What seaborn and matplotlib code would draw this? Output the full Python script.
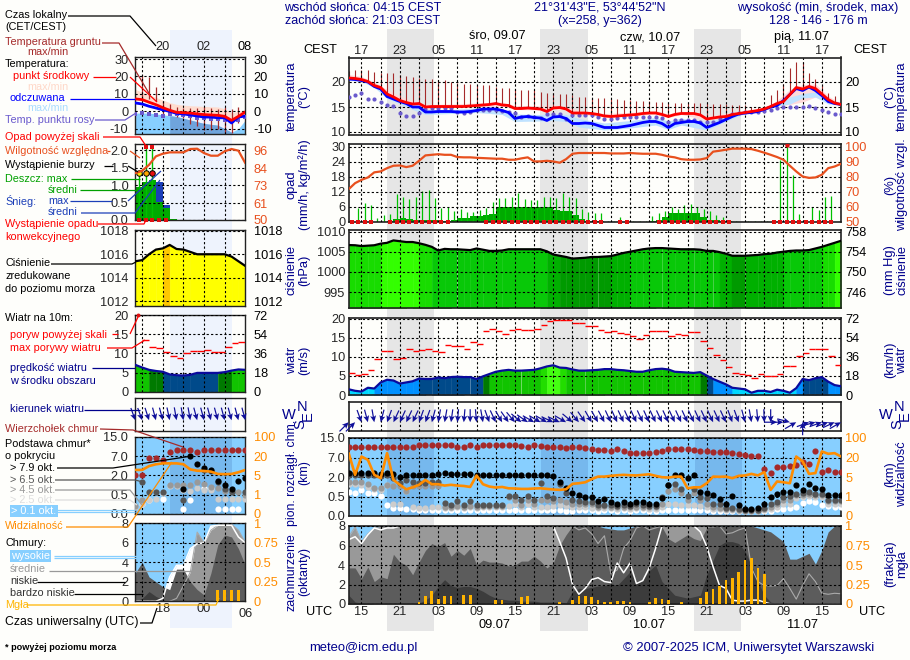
import numpy as np
import matplotlib
matplotlib.use('Agg')
import matplotlib.pyplot as plt
from matplotlib.lines import Line2D
from matplotlib.patches import Rectangle
import seaborn as sns

nan = float('nan')

# ---- main panel data, hourly from 13 UTC 08.07 (hour 13) to hour 90
hours = np.arange(13, 91)
hours_mid = hours[:-1] + 0.5

temp_mid = [20.8,20.7,20.5,20.1,19.3,18.9,17.6,17,16.3,15.9,
            15.6,15.7,15,15.1,15.1,15.1,15.1,15.1,15.1,15.2,
            15.3,15.4,15.5,15.7,15.4,15.3,14.7,14.7,14.8,14.7,
            14.6,14.1,14.8,14.9,14.6,13.8,13.8,13.8,13.7,13.5,
            13.2,13.1,13.2,13.3,13.4,13.5,13.7,13.8,13.8,13.5,
            13.1,13.5,13.7,13.7,13.7,13.4,12.6,12.8,13,13.1,
            13.5,13.7,13.9,14.1,14.3,14.6,15.1,15.7,16.1,17.5,
            18.9,18.6,19.1,18.7,17.6,16.5,15.8,15.5]
temp_feel = [20.6,20.5,20.3,20,19.1,18.6,17.1,16.6,16.1,15.7,
             15,15,14,14,14.1,14.1,14.1,14,14,14.1,
             14.3,14.6,14.6,14.6,14.3,13.9,12.7,13,13.1,12.9,
             12.8,12.3,13,13.1,12.7,11.7,11.7,11.8,11.7,11.3,
             10.9,10.9,10.9,11.1,11.3,11.6,11.9,12.1,12.1,11.7,
             10.9,11.7,11.9,12.1,12.1,11.8,10.9,11.4,11.9,12.5,
             13.1,13.6,13.8,13.9,14.1,14.5,15,15.3,16.3,17.5,
             18.7,18.3,19,18.3,17.3,16.1,15.7,15.5]
temp_dew = [17,17.3,17.7,16.6,16.6,15.9,15.3,15.1,13.8,13.1,
            13.1,13.8,14.5,14.7,14.7,14.7,14.7,14,13.8,14,
            14.4,14.4,14.4,14.4,14.1,13.9,13.8,12.9,13.1,12.9,
            12.8,13.5,13.5,13.5,12.5,13.4,13.4,13.4,13.4,13,
            12.7,12.7,12.8,13,13,13,13,13,13,12.8,
            12.1,12.3,12.3,12.3,12.3,12.1,12,12.1,12.5,13,
            13.5,13.8,13.9,14,14,14.1,14.3,14.8,14.9,15,
            15,15,15.1,14.7,14.4,13.9,13.6,13.6]
ground_max = [22.2,22.3,22.3,22.3,21.9,21.7,21.7,21.7,21.3,21.1,
              21,20.8,20.6,20.5,20.3,20.3,20,19.8,19.6,19.6,
              19.4,19.3,19.3,19,18.8,18.8,18.5,18.3,18.3,18.3,
              17.9,17.8,17.7,17.5,17.5,17.3,17,17,16.8,16.7,
              16.7,16.5,16.5,16.3,16.3,16.1,16.1,16.1,16,15.9,
              15.8,15.8,15.8,15.7,15.7,15.7,15.7,15.6,15.5,15.5,
              15.4,15.3,15.3,15,15,15.1,17.3,18.3,19.5,22.8,
              24,24,21.8,20.6,19.3,17.7,17.1,16.5]
band_hours = [13,15,17,19,21,23,25,29,33,37,39,43,45,47,49,53,57,61,63,65,69,73,75,78,80,82,84,86,88,90]
pink_hi = [21.5,21.1,20,18.5,17.2,16.2,15.5,15.6,15.8,16,15.3,15.2,15.4,15.1,14.3,13.7,13.9,14.3,13.6,14.2,13.2,13.9,14.1,14.8,16.3,18.5,19.5,19.6,17.2,15.7]
pink_lo = [20.6,20.3,19.1,17.4,16.1,15.3,14.8,14.9,15.1,15.2,14.5,14.4,14.6,14.4,13.6,13,13.2,13.6,12.9,13.5,12.4,13.3,13.8,14.4,15.2,15.5,16,17,15.9,15.4]
sky_hi = [20.6,20.3,19.1,17.4,16.3,15.3,14.5,14.5,14.8,14.6,13.6,13.5,13.7,13.5,12.7,11.8,12.3,12.9,12.2,12.8,12,13.4,13.9,14.6,15.4,17,17.7,18,16.3,15.6]
sky_lo = [20.4,20.1,18.9,16.7,15.6,14.5,13.5,13.7,13.9,13.5,12.1,12.2,12.3,12.1,11,10.4,10.8,11.4,10.5,11.4,10.4,12.7,13.7,14.4,15.2,15.6,16.8,17,15.6,15.4]

humidity = [71.7,75.7,77.9,79.5,82.9,83.5,85.7,87.3,87.5,86.4,
            87.3,90.6,94.2,94.6,95,94.6,94.6,93.1,92.9,92.9,
            92.6,92.4,92.2,92,92,91.3,91.3,92.2,92.9,90.2,
            90.2,90.6,90.2,89.3,91.7,95.3,95.8,95.8,95.8,95.8,
            95.8,95.5,95.5,95.5,95.8,95.5,95.3,95.3,95.3,94.6,
            93.5,92.9,91.7,91.3,91.3,91.5,92.4,96.7,97.3,98,
            98.7,98.7,98.7,98.4,97.3,96,94.6,93.1,91.3,87.3,
            83.5,80.1,79.2,79.5,81.3,85.7,86.8,88.6]
rain_max = [0,5.4,7.4,6.7,1.3,2.7,3,11,10,9,
            9.8,12.4,12.7,9.4,5.4,6,4.4,5,3.7,4,
            4.7,5.4,8,9.4,9.4,10,11.4,9,8.7,8.7,
            10,10,9.4,11.4,10,9.4,5,4,3.3,3.6,
            .3,.2,1.7,.2,.2,.3,.2,2.3,3.3,4.4,
            6,5,6.7,7,5.7,5,4.3,2.7,2,.7,
            .1,0,.1,.1,.1,.1,0,24.8,33,18.7,
            3,0,6,4.7,9.8,10.3,0]
rain_mean = [0,0,0,0,0,0,.3,1.2,1.3,1.2,
             .8,.7,.8,.6,.4,.4,.5,1.5,1.5,2.3,
             2.3,2.8,3,5.7,5.9,5.9,5.9,5.9,5.9,5.9,
             5.9,5.9,4.5,4.3,4.3,2.5,1,.4,.2,.2,
             0,0,0,0,0,0,0,.2,.8,2,
             3.6,3.6,3.6,3.6,3.6,1.8,.8,.8,.4,.2,
             0,0,0,0,0,0,0,0,0,0,
             0,0,0,0,0,0,0]
convective = [13.5,14.5,15.5,16.5,19.5,20.5,21.5,22.5,23.5,24.5,25.5,26.5,27.5,28.5,
              34.5,35.5,36.5,37.5,38.5,39.5,40.5,41.5,42.5,43.5,44.5,45.5,46.5,47.5,48.5,49.5,50.5,51.5,52.5,
              55.5,56.5,61.5,62.5,63.5,64.5,65.5,66.5,67.5,68.5,69.5,70.5,71.5,72.5,
              79.5,80.5,81.5,82.5,83.5,84.5,85.5,86.5,87.5,88.5]
over_rain_hour = [81.5]
over_rain_value = [30.6]

pressure = [1006.65,1006.6,1006.4,1006.5,1006.6,1007,1007.2,1007.8,1007.6,1007.4,
            1007.4,1007.1,1006.7,1006.2,1005.3,1005.7,1005.6,1005.6,1005.5,1005.4,
            1005.8,1005.5,1005.2,1005.2,1005.3,1005.6,1005.6,1005.6,1005.6,1005.6,
            1005.6,1005.1,1004.3,1004,1003.7,1003.3,1003.4,1003.5,1003.7,1003.7,
            1003.8,1003.9,1004.3,1004.7,1005,1005.3,1005.6,1005.8,1005.9,1005.9,
            1005.8,1005.7,1005.6,1005.6,1005.6,1005.5,1005.2,1005.2,1004.9,1004.5,
            1004,1004,1004,1004.1,1004.2,1004.4,1004.5,1004.8,1005,1005.2,
            1005.3,1005.3,1005.4,1005.8,1006.2,1006.7,1007.2,1007.7]
wind = [1.5,1.1,.9,1.9,1.7,3.3,4,3.8,3,3.3,
        3.6,4.3,4.2,4.2,4.6,4.4,4.7,4.8,4.7,4.7,
        4.2,4.9,5.5,6.1,6.4,6.6,6.4,6.4,6.5,6.6,
        7,7.5,7.8,7.2,7.1,6.7,6.4,6.4,6.5,6.6,
        6.8,6.8,6.6,6.5,6.3,6.1,6.1,6.5,6.8,6.9,
        6.7,6.1,6,5.9,5.8,6,5.1,4.2,3.5,2.8,
        1.9,1.7,1.5,.6,1.1,1.1,.8,1.4,1.1,.6,
        1.8,4.2,3.9,4.4,4.7,3.5,2.6,2.3]
gust = [5.7,5.2,5.4,6.5,9.4,11.5,11.5,9.4,9.6,12,
        11.5,11.8,12,11.5,11.2,13,12.8,12.8,12,13.9,
        13.3,16.8,17.3,16.8,16,17,17.3,17,17,17.3,
        18.4,19.5,19.6,19.6,19.6,18.9,18.9,18.1,18.1,17,
        16.6,16.8,16.2,16,15.4,14.6,15.7,16.8,16.8,16.8,
        15.4,16,15.7,16.5,16.5,14.1,12.3,10.4,9.1,7.3,
        5.7,5.4,5.2,4.4,5.4,5.1,5.1,5.4,7.5,7.7,
        10.2,11,12.1,12.1,12.1,10.2,7.8]
wind_dir = [225,225,340,345,350,15,20,25,25,25,
            25,20,20,15,10,10,8,5,5,0,
            355,350,340,335,330,325,320,310,305,300,
            300,300,295,295,300,310,320,325,330,330,
            332,335,335,335,335,335,335,335,335,335,
            335,335,335,335,335,335,335,335,335,335,
            340,340,345,350,355,358,0,270,270,285,
            240,180,250,255,250,250,245,240]

cloud_top = [11.3,11.3,11.3,11.3,11.3,11.3,11.3,11.3,11.3,11.3,
             11.3,12.1,12.2,12.2,12.2,12.2,12.2,11.3,11.3,12.1,
             11.3,12.1,12.1,12.1,12.1,12.1,12.1,11.7,11.3,12.1,
             11.7,11.3,11.3,11.3,10.9,11.3,11.3,10.9,10.3,10.2,
             9.9,9.7,10.3,9.5,8.7,8.9,8.9,8.9,9.1,9.7,
             10.4,10.4,10.4,10.4,9.9,9.7,9.7,9.3,9.3,9.1,
             8.8,8.5,8.1,7.8,7.6,4.1,3,4.5,4.5,4.7,
             4.95,5.8,5.3,9.7,3.4,3.85,3.4,3.25]
base_79 = [2.9,2.9,2.9,2.9,2.9,2.75,2.9,2.8,1.97,2.55,
           2.5,2.5,2.55,2.4,2.8,2.9,2.8,2.75,2.75,2.7,
           2.6,2.6,2.6,2.55,2.55,2.55,2.5,2.5,2.5,2.5,
           2.55,2.4,2.35,1.65,1.19,.75,.6,.5,.49,.38,
           .44,.36,.32,.35,.32,.37,.36,.32,.32,.45,
           1.4,2.55,2.55,1.96,2.55,.85,.75,.6,.44,.3,
           .55,.27,.17,.17,.2,.3,.5,.72,.88,.88,
           1.4,.98,1.47,1.19,1.08,.62,.62,.62]
base_65 = [2.55,2.4,2.55,2.55,2.55,2.15,2.55,1.9,1.52,1.78,
           1.65,1.52,1.52,1.6,1.6,.33,.28,.39,.28,.39,
           .28,.28,.28,.28,.28,.52,.52,.42,.52,.42,
           1.52,.52,.45,1.45,.75,.42,.39,.37,.35,.28,
           .28,.28,.26,.28,.26,.3,.28,.26,.26,.5,
           1.4,1.45,1.05,.55,1.1,.5,.45,.3,.3,.2,
           .2,.18,.15,.15,.15,.2,.3,.35,.5,.52,
           .7,.75,.88,.7,.7,.42,.42,.42]
base_45 = [1.6,1.6,1.6,1.45,1.19,1.13,1.4,1.31,1.3,.93,
           1.3,1.3,1.27,1.3,1.3,.24,.22,.26,.24,.26,
           .24,.26,.26,.26,.26,.5,.4,.28,.42,.3,
           .42,.4,.38,.4,.36,.3,.3,.3,.3,.24,
           .26,.24,.22,.24,.22,.24,.24,.22,.22,.32,
           .9,1.1,.8,.4,.8,.4,.3,.24,.2,.17,
           .17,.15,.14,.14,.14,.17,.24,.3,.4,.42,
           .6,.62,.7,.6,.6,.38,.38,.38]
base_25 = [1.5,1.45,1.4,1.2,1.1,1,1.4,.3,.3,.93,
           .22,.2,.2,.22,.22,.2,.2,.22,.2,.22,
           .2,.22,.22,.22,.22,.26,.3,.22,.3,.24,
           .24,.24,.26,.28,.26,.22,.22,.22,.2,.2,
           .2,.2,.18,.2,.18,.2,.2,.18,.18,.22,
           .3,.3,.28,.28,.28,.26,.22,.18,.17,.15,
           .15,.14,.13,.13,.13,.15,.18,.22,.3,.32,
           .45,.5,.52,.5,.48,.32,.3,.3]
base_01 = [.88,.75,1.01,.75,.75,.52,.28,.21,.2,.18,
           .18,.15,.15,.15,.15,.15,.15,.15,.15,.15,
           .16,.15,.15,.15,.16,.15,.15,.15,.15,.15,
           .15,.15,.16,.15,.14,.14,.15,.15,.15,.14,
           .15,.15,.14,.15,.14,.15,.15,.14,.14,.15,
           .16,.16,.16,.16,.16,.15,.15,.14,.14,.13,
           .13,.13,.13,.13,.13,.13,.14,.17,.18,.21,
           .24,.33,.39,.37,.28,.26,.24,.24]
visibility = [37.9,6.65,24,18.2,6.65,4.76,37.9,4.4,3.4,2.48,
              2.88,3.4,4.4,3.52,3.52,3.24,3.4,3.24,3.16,2.96,
              6.2,3.52,3.04,2.84,2.96,2.68,2.64,2.56,2.56,2.64,
              2.68,2.56,2.44,2.36,2.48,3.6,3.72,3.92,4.56,5.3,
              5.3,5.9,6.35,6.65,6.35,6.2,6.65,7.1,5.9,4.96,
              4.88,5.3,5.3,2.68,2.88,2.88,3.72,5.3,5.15,5.3,
              4.76,5.9,6.2,7.4,6.2,8.75,2.36,4.08,3.92,3.72,
              24,17,7.4,8,44.8,35.2,37.9,24]

cloud_high = [6.6,6.9,6.2,7.1,7.8,7.6,7.8,7.8,8,8,
              8,8,8,8,8,8,8,8,8,8,
              8,8,8,8,8,8,8,8,8,8,
              8,8,8,6.4,4.7,2,1,1.6,2.5,2.7,
              2.3,2.2,4.2,3.2,4.2,2.1,2.4,3.7,5.7,8,
              8,8,8,8,8,7.4,5.9,3.8,1.9,1.6,
              .4,.3,.3,.4,.4,.2,0,0,0,0,
              0,0,0,0,0,0,0,0]
cloud_med = [6.9,7.9,6.4,7.2,7.8,8,8,8,8,8,
             8,8,8,8,8,8,8,8,8,8,
             8,8,8,8,8,8,8,8,8,8,
             8,8,8,8,8,8,7.6,7.8,7.2,6.2,
             7,3.1,3.5,5.7,6.5,7.8,8,7.6,7.8,8,
             8,8,8,8,8,8,8,7.9,8,7.2,
             7.3,7.6,7.8,3.7,2.3,1.9,1.85,1.9,2.6,1.6,
             .5,1.9,3.1,2.3,1.1,1,1.1,1.05]
cloud_low = [3.7,3.7,2.6,3.8,2.3,2.8,2.6,5.1,4.3,4,
             3,4.3,5.5,6.2,5.9,6.3,4.9,5.5,5,5.7,
             4,4.5,4.3,4.3,4.2,3.9,4,4.4,4.4,4.9,
             4.4,3.7,4.2,6,7.1,8,8,8,8,8,
             7.8,7.7,7.6,7.6,7.8,8,8,8,8,7.9,
             6.7,6.3,6.7,7.1,6.7,6.5,7.8,8,8,8,
             8,8,8,8,7.8,7.6,7.4,6.9,6.4,4.6,
             4.6,4.9,5.2,4.1,5.5,7.4,8,8]
cloud_vlow = [.9,.2,.1,.1,0,0,0,0,0,0,
              0,.1,.4,.9,1.8,2.5,1.9,1.7,1.8,1.8,
              1.6,1.3,.9,.6,.5,.4,.4,.3,.3,.3,
              .2,.2,.2,.2,.1,1.3,1.6,1.6,1.7,1.85,
              1.9,2.1,1.9,2.6,3.3,2.3,2.5,3.4,4,2.3,
              1.6,.9,.75,.6,.75,.9,3,4.5,6,6.4,
              6.4,6.2,5.4,4,2.3,.9,.2,0,0,0,
              0,0,0,0,0,0,0,0]
fog = [0,0,0,0,0,0,0,0,0,0,
       0,.03,.1,.17,.07,.1,.1,0,.12,.11,
       0,0,0,.05,.05,0,0,.085,.1,0,
       0,0,0,.03,0,.05,.1,.1,.09,.05,
       .03,.03,.04,.04,.03,0,0,.03,.08,.07,
       .05,0,.03,0,0,.08,.16,.19,.235,.31,
       .33,.41,.57,.585,.46,.39,0,0,0,0,
       0,0,0,0,0,0,0,0]

main_ticks = list(range(15, 91, 3))
local_labels = ['17','','23','','05','','11','','17','','23','','05','','11','','17','','23','','05','','11','','17','']
utc_labels = ['15','','21','','03','','09','','15','','21','','03','','09','','15','','21','','03','','09','','15','']

# ---- left panel data, hours 14 to 30
hours_l = np.arange(14, 31)
hours_l_mid = hours_l[:-1] + 0.5

temp_mid_l = [7.1,6.7,5.2,3.8,2.1,.6,-.6,-.8,-1,-1.5,-1.9,-2.1,-2.3,-2.9,-5.2,-2.9,-.4]
temp_feel_l = [4.8,4.2,2.9,1.9,.8,0,-1.2,-1.5,-2.1,-2.7,-3.3,-3.3,-3.7,-3.7,-6.7,-3.3,-2.7]
temp_dew_l = [-1.3,-1.1,-1.3,-2,-2.5,-1.3,-1.3,-2.3,-2.9,-3.7,-4,-4.4,-4.4,-4.8,-5.6,-4.8,-3.3]
temp_pink_l = [12.6,11,9.5,8,6.5,5,4,3.5,3.2,3,2.8,2.6,2.5,1.5,-1,0,1]
feel_min_l = [-1,-1,-1,-1.5,-2,-2.5,-3,-4,-5,-6,-7,-7.5,-8,-10,-12,-10,-5]
ground_top_l = [20.9,19.6,14,6,4.4,2.5,2,2,2,2.5,2,1.5,2.5,1.5,2.5]
ground_bot_l = [6,7,6,-3,-2,-3,-4,-7.5,-8.5,-10.5,-11,-10,-13,-12.5,-7]

humidity_l = [80.8,82.4,86.3,91.9,93.6,94.5,94.5,94.5,96.7,96.9,94,92.3,92.3,95.2,96.7,95.6,87.4]
rain_mean_l = [.94,1.1,1.15,.52,.33,.04,0,0,0,0,0,0,0,0,0,0]
snow_max_l = [0,0,0,1.1,.43,0,0,0,0,0,0,0,0,0,0,0]
rain_max_l = [1.35,2.1,2.1,0,0,0,0,0,0,0,0,0,0,0,0,0]
convective_l = [14.5,15.5,16.5,17.5,18.5]
thunder_hours = [14.5,15.5,16.5]
thunder_colors = ['#ffe600','#ffa500','#e81010']
thunder_level = [1.34,1.34,1.34]
over_rain_hours_l = [15.5,16.5]
over_rain_values_l = [2.1,2.1]

pressure_l = [1015.4,1015.5,1016,1016.4,1016.5,1016.8,1016.45,1016.4,1016.2,1016,1016,1016,1016,1016,1015.8,1015.4,1015]
wind_l = [7,6.3,5.7,5.4,5.2,4.5,4.3,4.2,4.4,4.9,4.9,4.9,4.9,5.1,5.5,5.8,5.7]
gust_l = [nan,13.5,11.6,11.3,10.4,9.4,8.7,10.2,10.5,10.7,10.8,10.4,10.4,11.6,12.6,12.9]
over_gust_hour = [14.4]
over_gust_value = [19.9]
wind_dir_l = [340,340,342,345,345,348,350,350,350,345,345,345,345,345,345,345,345]

cloud_top_l = [2,2,6.4,6.4,5.95,8.8,9.7,9.7,9.7,8.8,9.7,9.7,9.7,9.7,9.7,9.7,9.7]
base_79_l = [nan,nan,nan,nan,nan,nan,nan,.92,7,4.95,3.8,3.4,1.6,1.25,.92,1.55,1.8]
base_65_l = [nan,1.52,.68,.68,.68,nan,nan,.35,nan,nan,3.4,3.2,1.5,.92,.68,nan,.68]
base_45_l = [.2,.35,nan,nan,nan,1.24,1.24,1.24,1.24,1.5,1.3,1.1,1,.8,.75,.7,.5]
base_25_l = [.18,.25,.35,.4,.6,1.2,1.2,.9,.8,1,.9,.85,.38,.38,.38,.38,.38]
base_01_l = [nan,.25,.35,nan,.38,nan,nan,.13,.35,nan,1,1,.13,.13,.13,.13,nan]
visibility_l = [9.2,9.2,12.2,13.6,14.3,14.3,14.3,13.6,9.6,8.6,8.4,7.9,6.1,5.9,6.1,7.4,9.2]

cloud_high_l = [0,0,0,0,.3,2.5,3.7,3.7,5.4,5.9,6,7.7,7.8,7.8,7.8,6.6,6]
cloud_med_l = [0,0,0,0,0,0,.3,1.6,3,7.1,6,7.3,7.8,7.9,7.9,7.3,6]
cloud_low_l = [2.9,4,2.5,2,1.5,1.2,3.3,3.3,2,1.2,.65,2.9,5.8,6.8,6.6,5.4,3.7]
cloud_vlow_l = [0,.3,1,.5,.2,0,0,0,0,0,0,0,0,0,0,0,0]
fog_l = [0,0,0,0,0,0,0,0,0,0,0,0,.145,.145,.145,.145,0]

left_ticks = [15,18,21,24,27]
left_local = ['', '20', '', '02', '']
left_utc = ['', '18', '', '00', '']

# ---- colours
NAVY = '#00008c'
RH_COL = '#e8501e'
ORANGE = '#ff8c00'
FOG_COL = '#ffb400'
SKY = '#87cfff'
BROWN = '#a52a2a'
BASE_COLORS = ['#ffffff', '#cccccc', '#999999', '#555555', '#000000']
PRESS_BINS = [1004, 1005, 1006, 1007]
PRESS_COLS = ['#009a00', '#00b000', '#08c808', '#18dc00', '#33ff00']
WIND_BINS = [2.2, 3.95, 4.9, 5.6, 7, 7.4]
WIND_COLS = ['#00d8ff', '#0090ff', '#004a8a', '#007a00', '#11c400', '#22dd00', '#44ff11']

sns.set_theme(style='white')
plt.rcParams['font.family'] = ['Liberation Sans', 'DejaVu Sans']
plt.rcParams['font.size'] = 8.6
plt.rcParams['axes.unicode_minus'] = False

W, H = 910, 660
fig = plt.figure(figsize=(W / 100, H / 100), dpi=100, facecolor='#fefefb')


def px_axes(left, top, right, bottom):
    ax = fig.add_axes([left / W, 1 - bottom / H, (right - left) / W, (bottom - top) / H])
    ax.set_facecolor('none')
    return ax


def px_text(x, y, s, color='black', ha='left', **kw):
    kw.setdefault('fontsize', 7.8)
    fig.text(x / W, 1 - y / H, s, color=color, ha=ha, va='center', **kw)


def px_line(points, color='black', lw=0.9):
    xs = [p[0] / W for p in points]
    ys = [1 - p[1] / H for p in points]
    fig.add_artist(Line2D(xs, ys, color=color, lw=lw, zorder=10, solid_capstyle='butt'))


def km_fwd(v):
    return np.interp(v, [0, .5, 2, 7, 15], [0, 1, 2, 3, 4])


def km_inv(p):
    return np.interp(p, [0, 1, 2, 3, 4], [0, .5, 2, 7, 15])


def vis_fwd(v):
    return np.interp(v, [0, 1, 5, 20, 100], [0, 1, 2, 3, 4])


def vis_inv(p):
    return np.interp(p, [0, 1, 2, 3, 4], [0, 1, 5, 20, 100])


def finish(ax, xlim, ylim, yticks, ylabels, xticks, lw=1.2, pad=2.5):
    ax.set_xlim(*xlim)
    ax.set_ylim(*ylim)
    ax.set_xticks(xticks)
    ax.set_xticklabels([])
    ax.set_yticks(yticks)
    ax.set_yticklabels(ylabels, fontsize=9.2)
    ax.tick_params(length=0, pad=pad, which='both')
    ax.set_xlabel('')
    ax.set_ylabel('')
    ax.grid(True, color='black', linestyle=(0, (2, 2)), linewidth=0.8)
    ax.set_axisbelow(False)
    for s in ax.spines.values():
        s.set_visible(True)
        s.set_color('#222222')
        s.set_linewidth(lw)


def right_axis(ax, ylim, ticks, labels, color='black', pad=3):
    tw = ax.twinx()
    tw.set_facecolor('none')
    tw.set_ylim(*ylim)
    tw.set_yticks(ticks)
    tw.set_yticklabels(labels, color=color, fontsize=9.2)
    tw.tick_params(length=0, pad=pad, which='both')
    tw.grid(False)
    for s in tw.spines.values():
        s.set_visible(False)
    return tw


def fill_levels(ax, x, values, base, bins, cols):
    # one coloured slice per hour, colour follows the value
    values = np.asarray(values, dtype=float)
    for i in range(len(x) - 1):
        c = cols[np.searchsorted(bins, (values[i] + values[i + 1]) / 2)]
        ax.fill_between(x[i:i + 2], base, values[i:i + 2], color=c, linewidth=0.3, zorder=1)


def dir_arrows(ax, x, dirs, y):
    rad = np.radians(np.asarray(dirs, dtype=float) + 180)
    ax.quiver(x, np.full(len(x), y), 13 * np.sin(rad), 13 * np.cos(rad), angles='uv', units='dots',
              scale_units='dots', scale=1, pivot='tip', width=1.2, headwidth=5, headlength=5.5,
              headaxislength=4.5, color='#10109a', zorder=3, clip_on=False)


def draw_bases(ax, x, tops, b79, b65, b45, b25, b01, vis, xlim, xticks, size, lw=1.2, pad=2.5, rpad=3):
    for series, col in zip([b01, b25, b45, b65, b79], BASE_COLORS):
        sns.scatterplot(x=x, y=series, color=col, s=size, linewidth=0, ax=ax, zorder=3, legend=False)
    sns.scatterplot(x=x, y=tops, color=BROWN, s=size, linewidth=0, ax=ax, zorder=3, legend=False)
    ax.set_yscale('function', functions=(km_fwd, km_inv))
    finish(ax, xlim, (0, 15), [0, .5, 2, 7, 15], ['0.0', '0.5', '2.0', '7.0', '15.0'], xticks, lw=lw, pad=pad)
    tw = ax.twinx()
    tw.set_facecolor('none')
    sns.lineplot(x=x, y=vis, color=ORANGE, lw=1.9, ax=tw, legend=False)
    tw.set_yscale('function', functions=(vis_fwd, vis_inv))
    tw.set_ylim(0, 100)
    tw.set_xlim(*xlim)
    tw.set_yticks([0, 1, 5, 20, 100])
    tw.set_yticklabels(['0', '1', '5', '20', '100'], color=ORANGE, fontsize=9.2)
    tw.set_ylabel('')
    tw.tick_params(length=0, pad=rpad, which='both')
    tw.grid(False)
    for s in tw.spines.values():
        s.set_visible(False)


def draw_clouds(ax, x, high, med, low, vlow):
    ax.set_facecolor(SKY)
    ax.fill_between(x, 0, high, color='white', linewidth=0, zorder=1)
    ax.fill_between(x, 0, med, color='#999999', linewidth=0, zorder=1.1)
    ax.fill_between(x, 0, low, color='#5c5c5c', linewidth=0, zorder=1.2)
    ax.fill_between(x, 0, vlow, color='#3c3c3c', linewidth=0, zorder=1.3)
    sns.lineplot(x=x, y=med, color='#aaaaaa', lw=0.8, ax=ax, zorder=2, legend=False)
    sns.lineplot(x=x, y=high, color='white', lw=1.1, ax=ax, zorder=2.1, legend=False)


# night and day strips behind the panels
for x0, x1 in [(387, 434), (540, 588), (694, 741)]:
    fig.add_artist(Rectangle((x0 / W, 1 - 631 / H), (x1 - x0) / W, (631 - 29) / H, transform=fig.transFigure,
                             facecolor='#e6e6e6', edgecolor='none', zorder=-1))
fig.add_artist(Rectangle((170 / W, 1 - 628 / H), 62 / W, (628 - 30) / H, transform=fig.transFigure,
                         facecolor='#eef3fd', edgecolor='none', zorder=-1))

xlim_m = (13, 90)
xlim_l = (14, 30)

# ---- main temperature
ax = px_axes(348.7, 57.5, 841, 135)
ax.fill_between(band_hours, pink_lo, pink_hi, color='#ffd9d9', linewidth=0, zorder=1)
ax.fill_between(band_hours, sky_lo, sky_hi, color='#bfe2ff', linewidth=0, zorder=1.1)
ax.vlines(hours, temp_mid, ground_max, color=BROWN, lw=0.8, zorder=2)
sns.scatterplot(x=hours, y=temp_dew, color='#6a5acd', s=9, marker='o', linewidth=0, ax=ax, zorder=3, legend=False)
sns.lineplot(x=hours, y=temp_feel, color='#0000ff', lw=2, ax=ax, zorder=3.1, legend=False)
sns.lineplot(x=hours, y=temp_mid, color='#ff0000', lw=2, ax=ax, zorder=3.2, legend=False)
finish(ax, xlim_m, (9.4, 24.9), [10, 15, 20], ['10', '15', '20'], main_ticks)
ax.tick_params(axis='x', labeltop=True, labelbottom=False, pad=0.5)
ax.set_xticks(main_ticks)
ax.set_xticklabels(local_labels, fontsize=9.2)
right_axis(ax, (9.4, 24.9), [10, 15, 20], ['10', '15', '20'])

# ---- main rain and humidity
ax = px_axes(348.7, 144, 841, 221.7)
ax.bar(hours_mid, rain_mean, width=1, color='#00aa00', linewidth=0, zorder=1)
ax.vlines(hours_mid, 0, rain_max, color='#00c000', lw=0.9, zorder=2)
sns.scatterplot(x=convective, y=np.zeros(len(convective)), color='#e01010', s=5, marker='s', linewidth=0, ax=ax,
                zorder=4, clip_on=False, legend=False)
sns.scatterplot(x=over_rain_hour, y=over_rain_value, color='#e01010', s=10, linewidth=0, ax=ax, zorder=4, legend=False)
finish(ax, xlim_m, (0, 31.1), [0, 6, 12, 18, 24, 30], ['0', '6', '12', '18', '24', '30'], main_ticks)
rh_ax = right_axis(ax, (50, 101.8), [50, 60, 70, 80, 90, 100], ['50', '60', '70', '80', '90', '100'], RH_COL)
sns.lineplot(x=hours, y=humidity, color=RH_COL, lw=1.6, ax=rh_ax, legend=False)
rh_ax.set_ylabel('')
rh_ax.set_xlim(*xlim_m)

# ---- main pressure
ax = px_axes(348.7, 230.3, 841, 308.3)
fill_levels(ax, hours, pressure, 991, PRESS_BINS, PRESS_COLS)
sns.lineplot(x=hours, y=pressure, color='black', lw=1.6, ax=ax, zorder=3, legend=False)
finish(ax, xlim_m, (991, 1010.3), [995, 1000, 1005, 1010], ['995', '1000', '1005', '1010'], main_ticks)
right_axis(ax, (991, 1010.3), [995, 1000, 1005, 1010], ['746', '750', '754', '758'])

# ---- main wind
ax = px_axes(348.7, 317.7, 841, 395)
fill_levels(ax, hours, wind, 0, WIND_BINS, WIND_COLS)
sns.lineplot(x=hours, y=wind, color='#0a0a9c', lw=1.6, ax=ax, zorder=3, legend=False)
ax.hlines(gust, hours[:-1], hours[1:], color='#ff0000', lw=1, zorder=3)
finish(ax, xlim_m, (0, 20.3), [0, 5, 10, 15, 20], ['0', '5', '10', '15', '20'], main_ticks)
right_axis(ax, (0, 20.3), [0, 5, 10, 15, 20], ['0', '18', '36', '54', '72'])

# ---- main wind direction
ax = px_axes(348.7, 401.7, 841, 431)
dir_arrows(ax, hours, wind_dir, 0.3)
finish(ax, xlim_m, (0, 1), [], [], main_ticks)

# ---- main cloud base
ax = px_axes(348.7, 438, 841, 516)
ax.set_facecolor(SKY)
for x0, x1 in [(19.05, 26.4), (43, 50.5), (67.1, 74.5)]:
    ax.axvspan(x0, x1, color='#4f86c6', alpha=0.3, linewidth=0, zorder=0.5)
draw_bases(ax, hours, cloud_top, base_79, base_65, base_45, base_25, base_01, visibility, xlim_m, main_ticks, 20)

# ---- main clouds and fog
ax = px_axes(348.7, 526, 841, 604)
draw_clouds(ax, hours, cloud_high, cloud_med, cloud_low, cloud_vlow)
finish(ax, xlim_m, (0, 8), [0, 2, 4, 6, 8], ['0', '2', '4', '6', '8'], main_ticks)
ax.set_xticks(main_ticks)
ax.set_xticklabels(utc_labels, fontsize=9.2)
ax.tick_params(axis='x', pad=1.5)
fog_ax = right_axis(ax, (0, 1), [0, .25, .5, .75, 1], ['0', '0.25', '0.5', '0.75', '1'], ORANGE)
fog_ax.bar(hours, fog, width=0.42, color=FOG_COL, linewidth=0, zorder=3)

# ---- left temperature
LPAD = 5
RPAD = 6
ax = px_axes(135.3, 57.3, 245.3, 134.3)
ax.fill_between(hours_l, -13.2, feel_min_l, color=SKY, linewidth=0, zorder=1)
ax.fill_between(hours_l, -13.2, feel_min_l, where=(hours_l >= 19) & (hours_l <= 28), color='#6fa4dc', linewidth=0, zorder=1.05)
ax.fill_between(hours_l, temp_mid_l, temp_pink_l, color='#ffdccf', linewidth=0, zorder=1.1)
ax.vlines(hours_l[1:-1], ground_bot_l, ground_top_l, color=BROWN, lw=0.9, zorder=2)
sns.scatterplot(x=hours_l, y=temp_dew_l, color='#6a5acd', s=11, marker='s', linewidth=0, ax=ax, zorder=3, legend=False)
sns.lineplot(x=hours_l, y=temp_feel_l, color='#0000ff', lw=2, ax=ax, zorder=3.1, legend=False)
sns.lineplot(x=hours_l, y=temp_mid_l, color='#ff0000', lw=2, ax=ax, zorder=3.2, legend=False)
tk = [-10, 0, 10, 20, 30]
finish(ax, xlim_l, (-13.2, 31), tk, [str(t) for t in tk], left_ticks, lw=1, pad=LPAD)
ax.set_xticklabels(left_local, fontsize=9.2)
ax.tick_params(axis='x', labeltop=True, labelbottom=False, pad=3)
right_axis(ax, (-13.2, 31), tk, [str(t) for t in tk], pad=RPAD)

# ---- left rain
ax = px_axes(135.3, 144, 245.3, 220)
ax.bar(hours_l_mid, snow_max_l, width=1, color='#1c3fb8', linewidth=0, zorder=1)
ax.bar(hours_l_mid, rain_mean_l, width=1, color='#00aa00', linewidth=0, zorder=1.1)
ax.vlines(hours_l_mid, 0, rain_max_l, color='#00c000', lw=1, zorder=2)
sns.scatterplot(x=convective_l, y=np.zeros(len(convective_l)), color='#e01010', s=5, marker='s', linewidth=0, ax=ax,
                zorder=4, clip_on=False, legend=False)
sns.scatterplot(x=over_rain_hours_l, y=over_rain_values_l, color='#e01010', s=10, marker='s', linewidth=0, ax=ax, zorder=4,
                clip_on=False, legend=False)
for hr, lev, col in zip(thunder_hours, thunder_level, thunder_colors):
    sns.scatterplot(x=[hr], y=[lev], color=col, edgecolor='black', linewidth=0.7, s=16, ax=ax, zorder=4, legend=False)
finish(ax, xlim_l, (0, 2.18), [0, .5, 1, 1.5, 2], ['0.0', '0.5', '1.0', '1.5', '2.0'], left_ticks, lw=1, pad=LPAD)
rh_ax = right_axis(ax, (50, 100), [50, 61, 73, 84, 96], ['50', '61', '73', '84', '96'], RH_COL, pad=RPAD)
sns.lineplot(x=hours_l, y=humidity_l, color=RH_COL, lw=1.6, ax=rh_ax, legend=False)
rh_ax.set_ylabel('')
rh_ax.set_xlim(*xlim_l)

# ---- left pressure
ax = px_axes(135.3, 229.7, 245.3, 306.3)
fill_levels(ax, hours_l, pressure_l, 1011.55, [1016.64], ['#ffff00', '#ffc800'])
sns.lineplot(x=hours_l, y=pressure_l, color='black', lw=1.6, ax=ax, zorder=3, legend=False)
tk = [1012, 1014, 1016, 1018]
finish(ax, xlim_l, (1011.55, 1018.1), tk, [str(t) for t in tk], left_ticks, lw=1, pad=LPAD)
right_axis(ax, (1011.55, 1018.1), tk, [str(t) for t in tk], pad=RPAD)

# ---- left wind
ax = px_axes(135.3, 315, 245.3, 391.7)
fill_levels(ax, hours_l, wind_l, 0, WIND_BINS, WIND_COLS)
sns.lineplot(x=hours_l, y=wind_l, color='#0a0a9c', lw=1.6, ax=ax, zorder=3, legend=False)
ax.hlines(gust_l, hours_l[:-1], hours_l[1:], color='#ff0000', lw=1, zorder=3)
sns.scatterplot(x=over_gust_hour, y=over_gust_value, color='#e01010', s=8, linewidth=0, ax=ax, zorder=4, clip_on=False, legend=False)
finish(ax, xlim_l, (0, 20), [0, 5, 10, 15, 20], ['0', '5', '10', '15', '20'], left_ticks, lw=1, pad=LPAD)
right_axis(ax, (0, 20), [0, 5, 10, 15, 20], ['0', '18', '36', '54', '72'], pad=RPAD)

# ---- left wind direction
ax = px_axes(135.3, 398.3, 245.3, 431)
dir_arrows(ax, hours_l, wind_dir_l, 0.33)
finish(ax, xlim_l, (0, 1), [], [], left_ticks, lw=1)

# ---- left cloud base
ax = px_axes(135.3, 436.7, 245.3, 514)
ax.set_facecolor(SKY)
ax.axvspan(19.05, 28, color='#4f86c6', alpha=0.3, linewidth=0, zorder=0.5)
draw_bases(ax, hours_l, cloud_top_l, base_79_l, base_65_l, base_45_l, base_25_l, base_01_l, visibility_l, xlim_l,
           left_ticks, 20, lw=1, pad=LPAD, rpad=RPAD)

# ---- left clouds and fog
ax = px_axes(135.3, 523.3, 245.3, 601.3)
draw_clouds(ax, hours_l, cloud_high_l, cloud_med_l, cloud_low_l, cloud_vlow_l)
finish(ax, xlim_l, (0, 8), [0, 2, 4, 6, 8], ['0', '2', '4', '6', '8'], left_ticks, lw=1, pad=LPAD)
ax.set_xticklabels(left_utc, fontsize=9.2)
ax.tick_params(axis='x', pad=1.5)
fog_ax = right_axis(ax, (0, 1), [0, .25, .5, .75, 1], ['0', '0.25', '0.5', '0.75', '1'], ORANGE, pad=RPAD)
fog_ax.bar(hours_l, fog_l, width=0.42, color=FOG_COL, linewidth=0, zorder=3)
ax.text(30, -0.7, '06', ha='center', va='top', fontsize=9.2, clip_on=False)

# ---- header and footer text
px_text(363, 8, 'wschód słońca: 04:15 CEST', NAVY, ha='center', fontsize=9)
px_text(363, 21, 'zachód słońca: 21:03 CEST', NAVY, ha='center', fontsize=9)
px_text(600, 8, '21°31\'43"E, 53°44\'52"N', NAVY, ha='center', fontsize=9)
px_text(600, 21, '(x=258, y=362)', NAVY, ha='center', fontsize=9)
px_text(818, 8, 'wysokość (min, środek, max)', NAVY, ha='center', fontsize=9)
px_text(818, 21, '128 - 146 - 176 m', NAVY, ha='center', fontsize=9)
px_text(497, 36, 'śro, 09.07', ha='center', fontsize=9.2)
px_text(650, 37, 'czw, 10.07', ha='center', fontsize=9.2)
px_text(802, 37, 'pią, 11.07', ha='center', fontsize=9.2)
px_text(320, 50, 'CEST', ha='center', fontsize=9.2)
px_text(870, 50, 'CEST', ha='center', fontsize=9.2)
px_text(319, 612, 'UTC', ha='center', fontsize=9.2)
px_text(872, 612, 'UTC', ha='center', fontsize=9.2)
px_text(495, 625, '09.07', ha='center', fontsize=9.2)
px_text(649, 625, '10.07', ha='center', fontsize=9.2)
px_text(803, 625, '11.07', ha='center', fontsize=9.2)
px_text(363, 648, 'meteo@icm.edu.pl', NAVY, ha='center', fontsize=9.4)
px_text(749, 648, '© 2007-2025 ICM, Uniwersytet Warszawski', NAVY, ha='center', fontsize=9.4)
px_text(245, 47, '08', ha='center', fontsize=9.2)

# rotated panel titles
titles = [(298, 96, 'temperatura\n(°C)', 9.3), (298, 185, 'opad\n(mm/h, kg/m²/h)', 9.3), (298, 270, 'ciśnienie\n(hPa)', 9.3),
          (298, 360, 'wiatr\n(m/s)', 9.3), (298, 473, 'pion. rozciągł. chm.\n(km)', 8.8), (298, 572, 'zachmurzenie\n(oktanty)', 9),
          (896, 96, '(°C)\ntemperatura', 9.3), (896, 185, '(%)\nwilgotność wzgl.', 9.3), (896, 270, '(mm Hg)\nciśnienie', 9.3),
          (896, 360, '(km/h)\nwiatr', 9.3), (896, 474, '(km)\nwidzialność', 9.3), (896, 564, '(frakcja)\nmgła', 9.3)]
for x, y, s, size in titles:
    px_text(x, y, s, NAVY, ha='center', rotation=90, rotation_mode='anchor', multialignment='center', fontsize=size,
            linespacing=1.05)

# compass roses, right of the left panels and right of the main panels
for dx in [0, -597]:
    px_text(886 + dx, 415, 'W', NAVY, ha='center', fontsize=10.5)
    px_text(899 + dx, 407, 'N', NAVY, ha='center', fontsize=10.5)
    px_text(905 + dx, 416, 'E', NAVY, ha='center', fontsize=10.5, rotation=90)
    px_text(897 + dx, 424, 'S', NAVY, ha='center', fontsize=10.5, rotation=90)

# ---- left legend column
legend_rows = [(5, 15, 'Czas lokalny', 'black'), (5, 27, '(CET/CEST)', 'black'),
               (5, 42, 'Temperatura gruntu', BROWN), (27, 52, 'max/min', BROWN),
               (5, 64, 'Temperatura:', 'black'), (13, 76, 'punkt środkowy', '#ff0000'),
               (27, 87, 'max/min', '#ffd8c8'), (10, 98, 'odczuwana', '#0000ff'),
               (27, 108, 'max/min', '#a8dcff'), (5, 120, 'Temp. punktu rosy', '#6a5acd'),
               (5, 137, 'Opad powyżej skali', '#ff0000'), (5, 151, 'Wilgotność względna', RH_COL),
               (5, 165, 'Wystąpienie burzy', 'black'), (5, 179, 'Deszcz: max', '#00a000'),
               (48, 190, 'średni', '#00a000'), (5, 201, 'Śnieg:', '#1c3fb8'), (48, 201, 'max', '#1c3fb8'),
               (48, 212, 'średni', '#1c3fb8'), (5, 224, 'Wystąpienie opadu', '#ff0000'),
               (5, 237, 'konwekcyjnego', '#ff0000'), (5, 263, 'Ciśnienie', 'black'), (5, 276, 'zredukowane', 'black'),
               (5, 289, 'do poziomu morza', 'black'), (5, 318, 'Wiatr na 10m:', 'black'),
               (10, 335, 'poryw powyżej skali', '#ff0000'), (10, 348, 'max porywy wiatru', '#ff0000'),
               (10, 368, 'prędkość wiatru', NAVY), (10, 381, 'w środku obszaru', NAVY),
               (10, 409, 'kierunek wiatru', NAVY), (5, 429, 'Wierzchołek chmur', BROWN),
               (5, 444, 'Podstawa chmur*', 'black'), (5, 456, 'o pokryciu', 'black'),
               (10, 468, '> 7.9 okt.', 'black'), (10, 480, '> 6.5 okt.', '#555555'),
               (10, 490, '> 4.5 okt.', '#999999'), (10, 500, '> 2.5 okt.', '#dddddd'),
               (5, 526, 'Widzialność', ORANGE), (5, 543, 'Chmury:', 'black'), (10, 569, 'średnie', '#999999'),
               (10, 581, 'niskie', '#333333'), (10, 593, 'bardzo niskie', '#333333'), (5, 605, 'Mgła', FOG_COL)]
for x, y, s, col in legend_rows:
    px_text(x, y, s, col)
px_text(5, 622, 'Czas uniwersalny (UTC)', fontsize=8.8)
px_text(11, 511, '> 0.1 okt.', 'white', bbox=dict(facecolor=SKY, edgecolor='none', pad=1))
px_text(11, 556, 'wysokie', 'white', bbox=dict(facecolor=SKY, edgecolor='none', pad=1))
px_text(5, 648, '* powyżej poziomu morza', fontsize=6.6, fontweight='bold')

leaders = [([(68, 16), (130, 16), (156, 46)], 'black'), ([(102, 43), (119, 43), (150, 95)], BROWN),
           ([(93, 77), (116, 77)], '#ff0000'), ([(130, 77), (157, 102)], '#ff0000'), ([(70, 99), (135, 99)], '#0000ff'),
           ([(95, 120), (125, 120), (136, 113)], '#6a5acd'), ([(103, 137), (140, 137), (146, 146)], '#ff0000'),
           ([(107, 151), (110, 151)], RH_COL), ([(130, 151), (140, 158)], RH_COL), ([(104, 166), (113, 166)], 'black'),
           ([(128, 166), (138, 172)], 'black'), ([(71, 179), (140, 179)], '#00a000'), ([(80, 190), (144, 190)], '#00a000'),
           ([(70, 201), (112, 201)], '#1c3fb8'), ([(128, 201), (161, 171)], '#1c3fb8'),
           ([(81, 213), (135, 213), (160, 180)], '#1c3fb8'), ([(98, 224), (144, 224), (146, 220)], '#ff0000'),
           ([(51, 264), (132, 264), (136, 262)], 'black'), ([(112, 334), (118, 334)], '#ff0000'),
           ([(130, 334), (138, 317)], '#ff0000'), ([(107, 348), (132, 348), (145, 340)], '#ff0000'),
           ([(92, 368), (135, 368)], NAVY), ([(84, 410), (140, 410)], NAVY),
           ([(100, 429), (133, 430), (183, 447)], BROWN), ([(57, 468), (113, 468), (192, 456)], 'black'),
           ([(55, 480), (135, 480), (143, 482)], '#555555'), ([(55, 490), (130, 490), (142, 505)], '#999999'),
           ([(55, 500), (130, 500), (137, 505)], '#dddddd'), ([(55, 510), (135, 510)], SKY), ([(55, 512), (135, 512)], SKY),
           ([(66, 527), (128, 527), (172, 462)], ORANGE), ([(54, 556), (185, 556)], SKY), ([(54, 558), (185, 558)], SKY),
           ([(49, 571), (192, 571)], '#999999'), ([(37, 582), (125, 582)], 'black'), ([(74, 594), (143, 594)], 'black'),
           ([(27, 605), (216, 605), (219, 598)], FOG_COL), ([(140, 623), (152, 623), (157, 608)], 'black')]
for pts, col in leaders:
    px_line(pts, col)

fig.savefig('out.png', dpi=100, facecolor=fig.get_facecolor())
